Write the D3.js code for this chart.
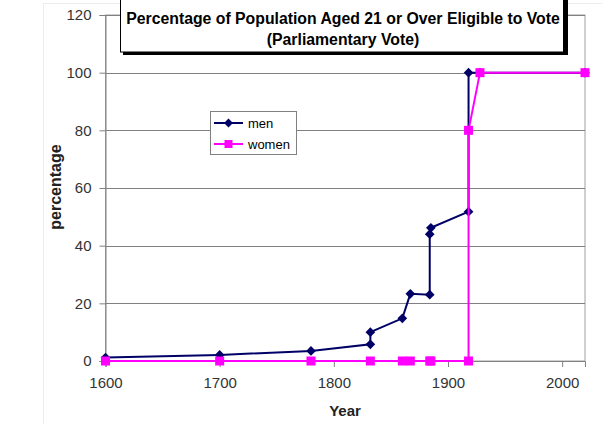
<!DOCTYPE html>
<html><head><meta charset="utf-8">
<script src="https://cdn.jsdelivr.net/npm/d3@7"></script>
<style>body{margin:0;background:#fff}svg{display:block}</style>
</head><body>
<svg id="c" width="602" height="424"></svg>
<script>
const title = ["Percentage of Population Aged 21 or Over Eligible to Vote", "(Parliamentary Vote)"];
const menYears = [1600, 1700, 1780, 1832, 1832, 1860, 1867, 1884, 1884, 1885, 1918, 1918, 1928, 2020];
const menValues = [1.2, 2.1, 3.5, 5.8, 10, 14.8, 23.3, 23, 44, 46.2, 51.8, 100, 100, 100];
const womenYears = [1600, 1700, 1780, 1832, 1860, 1867, 1884, 1885, 1918, 1918, 1928, 2020];
const womenValues = [0, 0, 0, 0, 0, 0, 0, 0, 0, 80, 100, 100];
const xTicks = [1600, 1700, 1800, 1900, 2000];
const yTicks = [0, 20, 40, 60, 80, 100, 120];

const svg = d3.select("#c");
const L = 105.5, R = 585, T = 15, B = 361;
const x = d3.scaleLinear().domain([1600, 2020]).range([L, R]);
const y = d3.scaleLinear().domain([0, 120]).range([B, T]);
const font = "Arial, 'Liberation Sans', sans-serif";

// faint outer border
svg.append("rect").attr("x", 43.5).attr("y", 3.5).attr("width", 620).attr("height", 440)
  .attr("fill", "none").attr("stroke", "#ececec");

// plot border
svg.append("rect").attr("x", L).attr("y", T).attr("width", R - L).attr("height", B - T)
  .attr("fill", "none").attr("stroke", "#a0a0a0");

// gridlines
svg.append("g").selectAll("line").data(yTicks.filter(d => d > 0)).join("line")
  .attr("x1", L).attr("x2", R).attr("y1", d => Math.round(y(d)) + 0.5).attr("y2", d => Math.round(y(d)) + 0.5)
  .attr("stroke", "#808080").attr("stroke-width", 1);

// axes
const yAxis = svg.append("g").attr("transform", `translate(${L},0)`)
  .call(d3.axisLeft(y).tickValues(yTicks).tickSize(6).tickPadding(8));
const xAxis = svg.append("g").attr("transform", `translate(0,${B})`)
  .call(d3.axisBottom(x).tickValues(xTicks).tickFormat(d3.format("d")).tickSize(6).tickPadding(10));
[yAxis, xAxis].forEach(a => {
  a.select(".domain").attr("stroke", "#808080");
  a.selectAll(".tick line").attr("stroke", "#808080");
  a.selectAll("text").attr("font-family", font).attr("font-size", 15).attr("fill", "#333");
});

// axis titles
svg.append("text").attr("x", 345).attr("y", 416).attr("text-anchor", "middle")
  .attr("font-family", font).attr("font-weight", "bold").attr("font-size", 15).attr("fill", "#222").text("Year");
svg.append("text").attr("transform", "translate(61,187) rotate(-90)").attr("text-anchor", "middle")
  .attr("font-family", font).attr("font-weight", "bold").attr("font-size", 16).attr("fill", "#222").text("percentage");

const line = d3.line().x(d => x(d[0])).y(d => y(d[1]));
const men = menYears.map((yr, i) => [yr, menValues[i]]);
const women = womenYears.map((yr, i) => [yr, womenValues[i]]);

const navy = "#000066", pink = "#ff00ff";
svg.append("path").datum(men).attr("d", line).attr("fill", "none").attr("stroke", navy).attr("stroke-width", 2);
svg.append("g").selectAll("path").data(men).join("path")
  .attr("d", d3.symbol(d3.symbolDiamond2, 60))
  .attr("transform", d => `translate(${x(d[0])},${y(d[1])})`).attr("fill", navy);

svg.append("path").datum(women).attr("d", line).attr("fill", "none").attr("stroke", pink).attr("stroke-width", 2);
svg.append("g").selectAll("rect").data(women).join("rect")
  .attr("x", d => x(d[0]) - 4.5).attr("y", d => y(d[1]) - 4.5).attr("width", 9).attr("height", 9).attr("fill", pink);

// title box with shadow
svg.append("rect").attr("x", 123).attr("y", -10).attr("width", 445).attr("height", 65).attr("fill", "#000");
svg.append("rect").attr("x", 120.5).attr("y", -10).attr("width", 443).attr("height", 62).attr("fill", "#fff").attr("stroke", "#000");
svg.selectAll(".tt").data(title).join("text").attr("class", "tt")
  .attr("x", 343).attr("y", (d, i) => 24 + i * 21).attr("text-anchor", "middle")
  .attr("font-family", font).attr("font-weight", "bold").attr("font-size", 15.8).attr("fill", "#000").text(d => d);

// legend
const lg = svg.append("g");
lg.append("rect").attr("x", 210.5).attr("y", 111.5).attr("width", 86).attr("height", 43).attr("fill", "#fff").attr("stroke", "#808080");
const items = [{name: "men", c: navy, s: "d"}, {name: "women", c: pink, s: "s"}];
items.forEach((it, i) => {
  const yy = 123 + i * 21;
  lg.append("line").attr("x1", 214).attr("x2", 243).attr("y1", yy).attr("y2", yy).attr("stroke", it.c).attr("stroke-width", 2);
  if (it.s === "d") lg.append("path").attr("d", d3.symbol(d3.symbolDiamond2, 50)).attr("transform", `translate(228.5,${yy})`).attr("fill", it.c);
  else lg.append("rect").attr("x", 224.5).attr("y", yy - 4).attr("width", 8).attr("height", 8).attr("fill", it.c);
  lg.append("text").attr("x", 248).attr("y", yy + 4.5).attr("font-family", font).attr("font-size", 13).attr("fill", "#000").text(it.name);
});
</script>
</body></html>
